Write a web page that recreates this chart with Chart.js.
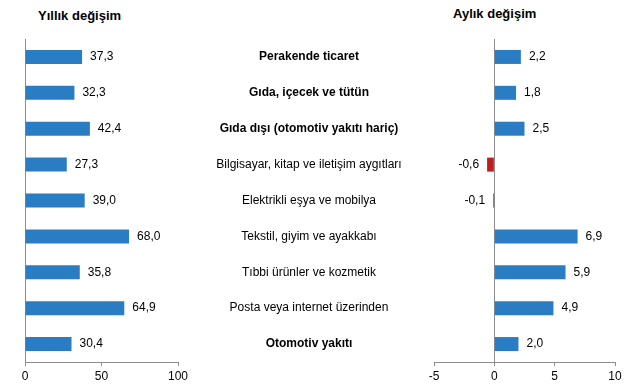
<!DOCTYPE html>
<html>
<head>
<meta charset="utf-8">
<script src="https://cdn.jsdelivr.net/npm/chart.js@4"></script>
<style>
  body { margin: 0; background: #fff; }
  #wrap { position: relative; width: 636px; height: 387px; overflow: hidden; font-family: "Liberation Sans", Arial, sans-serif; }
  #wrap canvas { position: absolute; top: 0; }
  .title { position: absolute; font-weight: bold; font-size: 13px; color: #000; white-space: nowrap; }
</style>
</head>
<body>
<div id="wrap">
  <div class="title" style="left:38px; top:8px;">Yıllık değişim</div>
  <div class="title" style="left:453px; top:6px;">Aylık değişim</div>
  <canvas id="yearly" width="200" height="387" style="left:0"></canvas>
  <canvas id="monthly" width="436" height="387" style="left:200px"></canvas>
</div>
<script>
// Kategoriler ve değerler
const categories = [
  "Perakende ticaret",
  "Gıda, içecek ve tütün",
  "Gıda dışı (otomotiv yakıtı hariç)",
  "Bilgisayar, kitap ve iletişim aygıtları",
  "Elektrikli eşya ve mobilya",
  "Tekstil, giyim ve ayakkabı",
  "Tıbbi ürünler ve kozmetik",
  "Posta veya internet üzerinden",
  "Otomotiv yakıtı"
];
// Ana gruplar (kalın yazılanlar)
const mainGroups = ["Perakende ticaret", "Gıda, içecek ve tütün", "Gıda dışı (otomotiv yakıtı hariç)", "Otomotiv yakıtı"];
const yearlyChange = [37.3, 32.3, 42.4, 27.3, 39.0, 68.0, 35.8, 64.9, 30.4];
const monthlyChange = [2.2, 1.8, 2.5, -0.6, -0.1, 6.9, 5.9, 4.9, 2.0];
const yearlyTicks = [0, 50, 100];
const monthlyTicks = [-5, 0, 5, 10];

Chart.defaults.font.family = "'Liberation Sans', Arial, sans-serif";
Chart.defaults.font.size = 12;
Chart.defaults.color = "#000";

const BLUE = "#2A7DC3";
const RED = "#BE1E1E";
const AXIS = "#8C8C8C";

function fmt(v) {
  return v.toFixed(1).replace(".", ",");
}

// Değer etiketleri: çubuğun ucuna yazılır
const valueLabels = {
  id: "valueLabels",
  afterDatasetsDraw(chart) {
    const { ctx } = chart;
    const meta = chart.getDatasetMeta(0);
    const data = chart.data.datasets[0].data;
    ctx.save();
    ctx.font = "12px 'Liberation Sans', Arial, sans-serif";
    ctx.fillStyle = "#000";
    ctx.textBaseline = "middle";
    meta.data.forEach((bar, i) => {
      const v = data[i];
      if (v < 0) {
        ctx.textAlign = "right";
        ctx.fillText(fmt(v), Math.min(bar.x, bar.base) - 8, bar.y);
      } else {
        ctx.textAlign = "left";
        ctx.fillText(fmt(v), bar.x + 8, bar.y);
      }
    });
    ctx.restore();
  }
};

// Orta sütundaki kategori adları
const categoryLabels = {
  id: "categoryLabels",
  afterDraw(chart, args, opts) {
    const { ctx } = chart;
    const yScale = chart.scales.y;
    ctx.save();
    ctx.fillStyle = "#000";
    ctx.textAlign = "center";
    ctx.textBaseline = "middle";
    categories.forEach((name, i) => {
      const bold = mainGroups.includes(name);
      ctx.font = (bold ? "bold " : "") + "12px 'Liberation Sans', Arial, sans-serif";
      ctx.fillText(name, opts.centerX, yScale.getPixelForTick(i));
    });
    ctx.restore();
  }
};

function makeChart(el, values, ticks, padding, extra) {
  return new Chart(el, {
    type: "bar",
    data: {
      labels: categories,
      datasets: [{
        data: values,
        backgroundColor: values.map(v => v < 0 ? RED : BLUE),
        borderWidth: 0,
        categoryPercentage: 1,
        barPercentage: 0.39
      }]
    },
    options: {
      indexAxis: "y",
      responsive: false,
      animation: false,
      layout: { padding: padding },
      plugins: {
        legend: { display: false },
        tooltip: { enabled: false },
        categoryLabels: extra.categoryLabels
      },
      scales: {
        x: {
          min: ticks[0],
          max: ticks[ticks.length - 1],
          afterBuildTicks(scale) {
            scale.ticks = ticks.map(v => ({ value: v }));
          },
          afterFit(scale) { scale.height = 25; },
          ticks: { padding: 3, maxRotation: 0, font: { size: 12 } },
          grid: {
            drawOnChartArea: extra.zeroLine,
            color: ctx => (ctx.tick && ctx.tick.value === 0) ? AXIS : "rgba(0,0,0,0)",
            tickColor: AXIS,
            tickLength: 4
          },
          border: { display: true, color: AXIS }
        },
        y: {
          afterFit(scale) { scale.width = 0; },
          ticks: { display: false },
          grid: { drawOnChartArea: false, drawTicks: false },
          border: { display: extra.yBorder, color: AXIS }
        }
      }
    },
    plugins: [valueLabels, categoryLabels]
  });
}

makeChart(document.getElementById("yearly"), yearlyChange, yearlyTicks,
  { left: 25, right: 22, top: 39, bottom: 0 },
  { zeroLine: false, yBorder: true, categoryLabels: { centerX: -1000 } });

makeChart(document.getElementById("monthly"), monthlyChange, monthlyTicks,
  { left: 234, right: 21, top: 39, bottom: 0 },
  { zeroLine: true, yBorder: false, categoryLabels: { centerX: 109 } });
</script>
</body>
</html>
